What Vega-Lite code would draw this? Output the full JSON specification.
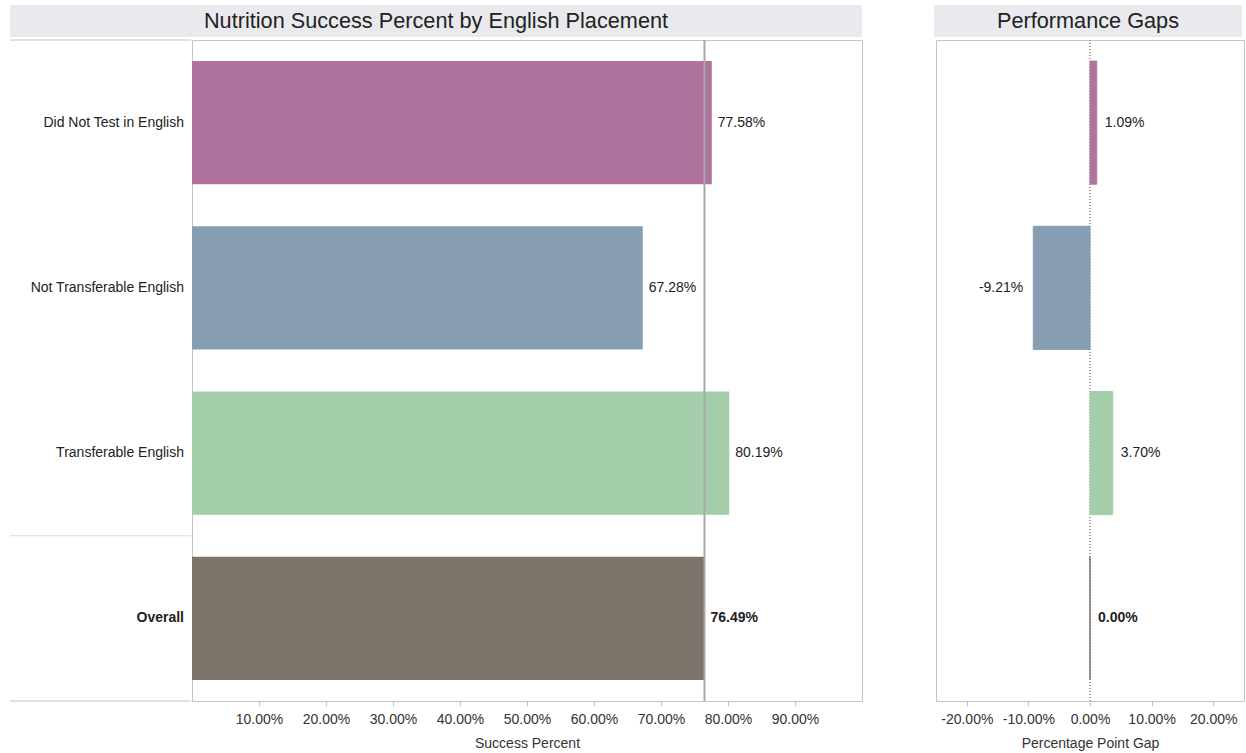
{
  "$schema": "https://vega.github.io/schema/vega-lite/v6.json",
  "padding": {"left": 9, "top": 5, "right": 0, "bottom": 0},
  "background": "white",
  "config": {
    "font": "Liberation Sans",
    "view": {"stroke": "#c4c4c4"},
    "locale": {"number": {"decimal": ".", "thousands": ",", "grouping": [3], "currency": ["$", ""], "minus": "-"}},
    "axis": {"labelFontSize": 14, "labelColor": "#333333", "titleFontSize": 14, "titleFontWeight": "normal", "titleColor": "#333333", "tickColor": "#c4c4c4", "tickSize": 5, "domain": false, "grid": false, "labelPadding": 6, "titlePadding": 10}
  },
  "datasets": {
    "d": [
      {"cat": "Did Not Test in English", "success": 0.7758, "gap": 0.0109},
      {"cat": "Not Transferable English", "success": 0.6728, "gap": -0.0921},
      {"cat": "Transferable English", "success": 0.8019, "gap": 0.0370},
      {"cat": "Overall", "success": 0.7649, "gap": 0.0}
    ]
  },
  "spacing": 1,
  "vconcat": [
    {
      "spacing": 72,
      "hconcat": [
        {
          "width": 852, "height": 32,
          "view": {"fill": "#e9eaee", "stroke": null},
          "data": {"values": [{"t": "Nutrition Success Percent by English Placement"}]},
          "mark": {"type": "text", "fontSize": 21.7, "color": "#222222", "baseline": "middle", "align": "center"},
          "encoding": {"text": {"field": "t", "type": "nominal"}}
        },
        {
          "width": 308, "height": 32,
          "view": {"fill": "#e9eaee", "stroke": null},
          "data": {"values": [{"t": "Performance Gaps"}]},
          "mark": {"type": "text", "fontSize": 21.7, "color": "#222222", "baseline": "middle", "align": "center"},
          "encoding": {"text": {"field": "t", "type": "nominal"}}
        }
      ]
    },
    {
      "spacing": 72,
      "hconcat": [
        {
          "spacing": -2,
          "hconcat": [
            {
              "width": 181, "height": 661,
              "view": {"stroke": null},
              "data": {"name": "d"},
              "layer": [
                {
                  "transform": [{"filter": "datum.cat === 'Overall'"}],
                  "mark": {"type": "rule", "color": "#dcdcdc", "strokeWidth": 1},
                  "encoding": {"y": {"field": "cat", "type": "nominal", "bandPosition": 0, "axis": null, "scale": {"domain": ["Did Not Test in English", "Not Transferable English", "Transferable English", "Overall"], "paddingInner": 0, "paddingOuter": 0}}}
                },
                {
                  "transform": [{"filter": "datum.cat === 'Did Not Test in English'"}],
                  "mark": {"type": "rule", "color": "#c4c4c4", "strokeWidth": 1},
                  "encoding": {"y": {"field": "cat", "type": "nominal", "bandPosition": 0, "axis": null}}
                },
                {
                  "transform": [{"filter": "datum.cat === 'Overall'"}],
                  "mark": {"type": "rule", "color": "#c4c4c4", "strokeWidth": 1},
                  "encoding": {"y": {"field": "cat", "type": "nominal", "bandPosition": 1, "axis": null}}
                },
                {
                  "transform": [{"filter": "datum.cat !== 'Overall'"}],
                  "mark": {"type": "text", "align": "right", "baseline": "middle", "dx": -7, "fontSize": 14, "color": "#222222"},
                  "encoding": {
                    "y": {"field": "cat", "type": "nominal", "axis": null},
                    "x": {"value": "width"},
                    "text": {"field": "cat", "type": "nominal"}
                  }
                },
                {
                  "transform": [{"filter": "datum.cat === 'Overall'"}],
                  "mark": {"type": "text", "align": "right", "baseline": "middle", "dx": -7, "fontSize": 14, "fontWeight": "bold", "color": "#222222"},
                  "encoding": {
                    "y": {"field": "cat", "type": "nominal", "axis": null},
                    "x": {"value": "width"},
                    "text": {"field": "cat", "type": "nominal"}
                  }
                }
              ]
            },
            {
              "width": 670, "height": 661,
              "data": {"name": "d"},
              "layer": [
                {
                  "mark": {"type": "bar"},
                  "encoding": {
                    "y": {"field": "cat", "type": "nominal", "axis": null, "scale": {"domain": ["Did Not Test in English", "Not Transferable English", "Transferable English", "Overall"], "paddingInner": 0.255, "paddingOuter": 0.1275}},
                    "x": {"field": "success", "type": "quantitative", "stack": null, "scale": {"domain": [0, 1], "nice": false}, "axis": {"values": [0.1, 0.2, 0.3, 0.4, 0.5, 0.6, 0.7, 0.8, 0.9], "format": ".2%", "title": "Success Percent"}},
                    "color": {"field": "cat", "type": "nominal", "legend": null, "scale": {"domain": ["Did Not Test in English", "Not Transferable English", "Transferable English", "Overall"], "range": ["#b0739e", "#869db3", "#a3cea9", "#7c746a"]}}
                  }
                },
                {
                  "transform": [{"filter": "datum.cat === 'Overall'"}],
                  "mark": {"type": "rule", "color": "#a9a9a9", "strokeWidth": 2},
                  "encoding": {"x": {"field": "success", "type": "quantitative"}}
                },
                {
                  "transform": [{"filter": "datum.cat !== 'Overall'"}],
                  "mark": {"type": "text", "align": "left", "baseline": "middle", "dx": 6, "fontSize": 14, "color": "#222222"},
                  "encoding": {
                    "y": {"field": "cat", "type": "nominal", "axis": null},
                    "x": {"field": "success", "type": "quantitative"},
                    "text": {"field": "success", "type": "quantitative", "format": ".2%"}
                  }
                },
                {
                  "transform": [{"filter": "datum.cat === 'Overall'"}],
                  "mark": {"type": "text", "align": "left", "baseline": "middle", "dx": 6, "fontSize": 14, "fontWeight": "bold", "color": "#222222"},
                  "encoding": {
                    "y": {"field": "cat", "type": "nominal", "axis": null},
                    "x": {"field": "success", "type": "quantitative"},
                    "text": {"field": "success", "type": "quantitative", "format": ".2%"}
                  }
                }
              ]
            }
          ]
        },
        {
          "width": 308, "height": 661,
          "data": {"name": "d"},
          "layer": [
            {
              "mark": {"type": "rule", "color": "#9a9a9a", "strokeWidth": 1, "strokeDash": [1, 2]},
              "encoding": {"x": {"datum": 0, "type": "quantitative", "scale": {"domain": [-0.25, 0.25], "nice": false}, "axis": {"values": [-0.2, -0.1, 0, 0.1, 0.2], "format": ".2%", "title": "Percentage Point Gap"}}}
            },
            {
              "mark": {"type": "bar", "strokeWidth": 1},
              "encoding": {
                "y": {"field": "cat", "type": "nominal", "axis": null, "scale": {"domain": ["Did Not Test in English", "Not Transferable English", "Transferable English", "Overall"], "paddingInner": 0.255, "paddingOuter": 0.1275}},
                "x": {"field": "gap", "type": "quantitative", "stack": null},
                "color": {"field": "cat", "type": "nominal", "legend": null, "scale": {"domain": ["Did Not Test in English", "Not Transferable English", "Transferable English", "Overall"], "range": ["#b0739e", "#869db3", "#a3cea9", "#7c746a"]}},
                "stroke": {"field": "cat", "type": "nominal", "legend": null, "scale": {"domain": ["Did Not Test in English", "Not Transferable English", "Transferable English", "Overall"], "range": ["#b0739e", "#869db3", "#a3cea9", "#7c746a"]}}
              }
            },
            {
              "transform": [{"filter": "datum.cat !== 'Overall' && datum.gap >= 0"}],
              "mark": {"type": "text", "align": "left", "baseline": "middle", "dx": 8, "fontSize": 14, "color": "#222222"},
              "encoding": {
                "y": {"field": "cat", "type": "nominal", "axis": null},
                "x": {"field": "gap", "type": "quantitative"},
                "text": {"field": "gap", "type": "quantitative", "format": ".2%"}
              }
            },
            {
              "transform": [{"filter": "datum.gap < 0"}],
              "mark": {"type": "text", "align": "right", "baseline": "middle", "dx": -10, "fontSize": 14, "color": "#222222"},
              "encoding": {
                "y": {"field": "cat", "type": "nominal", "axis": null},
                "x": {"field": "gap", "type": "quantitative"},
                "text": {"field": "gap", "type": "quantitative", "format": ".2%"}
              }
            },
            {
              "transform": [{"filter": "datum.cat === 'Overall'"}],
              "mark": {"type": "text", "align": "left", "baseline": "middle", "dx": 8, "fontSize": 14, "fontWeight": "bold", "color": "#222222"},
              "encoding": {
                "y": {"field": "cat", "type": "nominal", "axis": null},
                "x": {"field": "gap", "type": "quantitative"},
                "text": {"field": "gap", "type": "quantitative", "format": ".2%"}
              }
            }
          ]
        }
      ]
    }
  ]
}
